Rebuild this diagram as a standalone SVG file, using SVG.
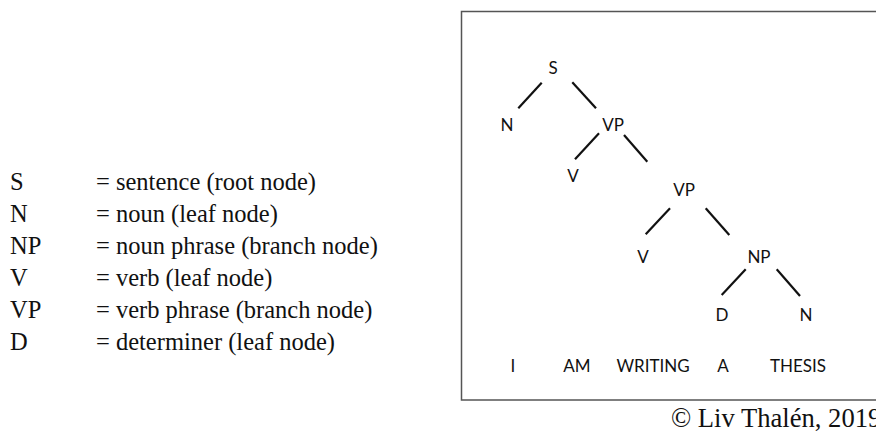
<svg xmlns="http://www.w3.org/2000/svg" width="876" height="434" viewBox="0 0 876 434">
<style>
.leg{font-family:"Liberation Serif","Times New Roman",serif;font-size:24.5px;fill:#111}
.cp{font-family:"Liberation Serif","Times New Roman",serif;font-size:26.6px;fill:#111}
.t{font-family:Lato,"Open Sans",sans-serif;font-size:17px;fill:#111;text-anchor:middle}
.e{stroke:#111;stroke-width:2.2;stroke-linecap:butt}
</style>
<rect width="876" height="434" fill="#fff"/>
<g id="legend">
<text class="leg" x="10" y="190">S</text><text class="leg" x="96" y="190">= sentence (root node)</text>
<text class="leg" x="10" y="222">N</text><text class="leg" x="96" y="222">= noun (leaf node)</text>
<text class="leg" x="10" y="254">NP</text><text class="leg" x="96" y="254">= noun phrase (branch node)</text>
<text class="leg" x="10" y="286">V</text><text class="leg" x="96" y="286">= verb (leaf node)</text>
<text class="leg" x="10" y="318">VP</text><text class="leg" x="96" y="318">= verb phrase (branch node)</text>
<text class="leg" x="10" y="350">D</text><text class="leg" x="96" y="350">= determiner (leaf node)</text>
</g>
<rect id="frame" x="461.5" y="11.5" width="430" height="388.5" fill="none" stroke="#555" stroke-width="1.5"/>
<g id="connectors">
<line class="e" x1="541.7" y1="82.7" x2="518.3" y2="108.3"/>
<line class="e" x1="572.3" y1="82.3" x2="596" y2="108.3"/>
<line class="e" x1="599" y1="133.3" x2="575" y2="159.3"/>
<line class="e" x1="624" y1="135" x2="647.3" y2="161.7"/>
<line class="e" x1="670" y1="208.3" x2="645.7" y2="234.3"/>
<line class="e" x1="705.7" y1="208.3" x2="729.3" y2="235"/>
<line class="e" x1="745.7" y1="269.3" x2="721.7" y2="295"/>
<line class="e" x1="776.7" y1="269.3" x2="800" y2="296"/>
</g>
<g id="node-S"><text class="t" x="553" y="74">S</text></g>
<g id="node-N1"><text class="t" x="507" y="131">N</text></g>
<g id="node-VP1"><text class="t" x="613" y="131">VP</text></g>
<g id="node-V1"><text class="t" x="573" y="182">V</text></g>
<g id="node-VP2"><text class="t" x="684" y="196">VP</text></g>
<g id="node-V2"><text class="t" x="643" y="263">V</text></g>
<g id="node-NP"><text class="t" x="759" y="263">NP</text></g>
<g id="node-D"><text class="t" x="722" y="321">D</text></g>
<g id="node-N2"><text class="t" x="806" y="321">N</text></g>
<g id="words">
<text class="t" x="513" y="372">I</text>
<text class="t" x="577" y="372">AM</text>
<text class="t" x="653" y="372">WRITING</text>
<text class="t" x="723" y="372">A</text>
<text class="t" x="798" y="372">THESIS</text>
</g>
<text id="copyright" class="cp" x="671" y="427">© Liv Thalén, 2019</text>
</svg>
